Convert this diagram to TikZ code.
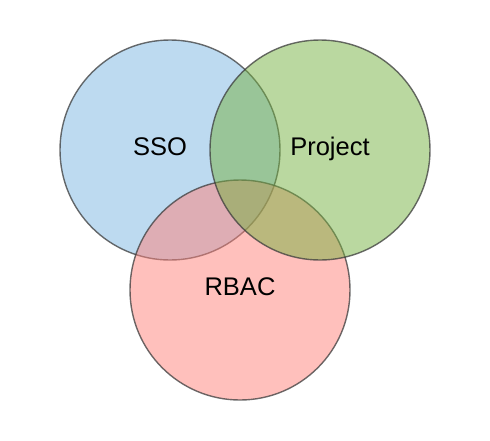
\documentclass[tikz,border=0pt]{standalone}
\usepackage{fontspec}
\setmainfont{Liberation Sans}
\definecolor{ssoc}{RGB}{123,181,225}
\definecolor{projc}{RGB}{117,177,65}
\definecolor{rbacc}{RGB}{255,129,121}
\definecolor{edgec}{RGB}{60,60,60}
\begin{document}
\begin{tikzpicture}[x=1pt,y=-1pt,
  setc/.style={circle,minimum size=220pt,inner sep=0pt,fill opacity=0.5,draw=edgec,draw opacity=0.75,line width=1.4pt},
  lbl/.style={font=\fontsize{25.5pt}{30pt}\selectfont,anchor=base,inner sep=0pt}]
\useasboundingbox (0,0) rectangle (490,440);
\node[setc,fill=ssoc] (sso) at (170,150) {};
\node[setc,fill=rbacc] (rbac) at (240,290) {};
\node[setc,fill=projc] (proj) at (320,150) {};
\node[lbl] (tsso) at (160,155) {SSO};
\node[lbl] (tproj) at (330,155) {Project};
\node[lbl] (trbac) at (240,295) {RBAC};
\end{tikzpicture}
\end{document}
